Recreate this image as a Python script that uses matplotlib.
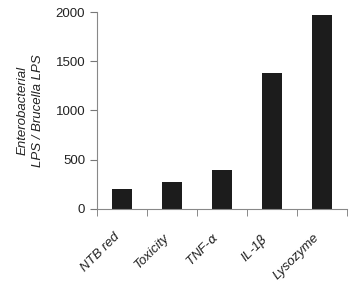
import numpy as np
import matplotlib.pyplot as plt

plt.rcParams['font.family'] = ['Liberation Sans', 'DejaVu Sans']

categories = ['NTB red', 'Toxicity', r'TNF-$\alpha$', r'IL-1$\beta$', 'Lysozyme']
ratios = [203, 271, 400, 1385, 1970]

fig = plt.figure(figsize=(3.5, 2.95), dpi=100)
ax = fig.add_axes([0.277, 0.292, 0.714, 0.667])

x = np.arange(len(categories))
ax.bar(x, ratios, width=0.4, color='#1c1c1c')

ax.set_xlim(-0.5, 4.5)
ax.set_ylim(0, 2000)
ax.set_yticks([0, 500, 1000, 1500, 2000])

ax.set_xticks(x)
ax.set_xticklabels(categories, rotation=45, ha='right', va='top',
                   style='italic', fontsize=9.5, color='#222222')
ax.tick_params(axis='x', length=0, pad=16)
ax.set_xticks(np.arange(-0.5, 5, 1), minor=True)
ax.tick_params(axis='x', which='minor', length=5, color='#777777', direction='out')
ax.tick_params(axis='y', length=5, pad=3.5, color='#777777', labelsize=9.5, labelcolor='#222222')

for s in ['top', 'right']:
    ax.spines[s].set_visible(False)
for s in ['left', 'bottom']:
    ax.spines[s].set_color('#888888')

ax.set_ylabel('Enterobacterial\nLPS / Brucella LPS', style='italic', fontsize=9.5,
              labelpad=8, color='#222222', linespacing=1.45)

fig.savefig('out.png', dpi=100)
